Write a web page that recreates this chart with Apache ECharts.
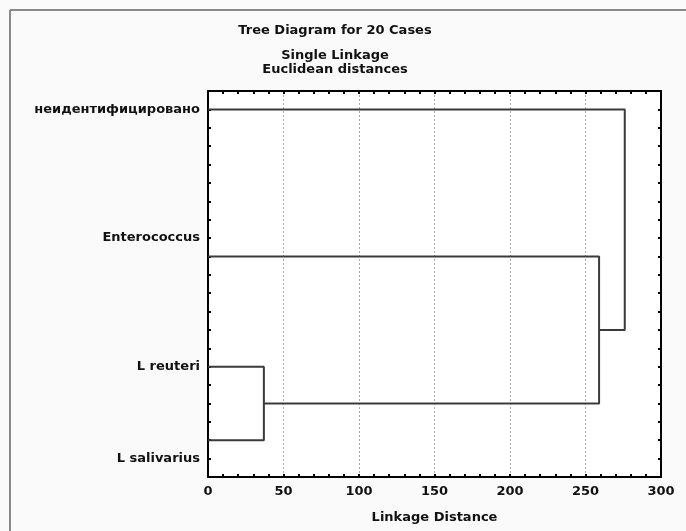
<!DOCTYPE html>
<html>
<head>
<meta charset="utf-8">
<script src="https://cdn.jsdelivr.net/npm/echarts@6/dist/echarts.min.js"></script>
<style>
  html, body { margin: 0; padding: 0; background: #fafafa; }
  #container { width: 686px; height: 531px; }
</style>
</head>
<body>
<div id="container"></div>
<script>
// leaves (top to bottom), row of each leaf's line, row of each name
const caseNames = ['неидентифицировано', 'Enterococcus', 'L reuteri', 'L salivarius'];
const leafRows = [1, 9, 15, 19];
const labelRows = [1, 8, 15, 20];
// joins: [left node, right node, linkage distance]; nodes 4.. are earlier joins
const joins = [
  [2, 3, 37],
  [1, 4, 259],
  [0, 5, 276],
];
const xTicks = [0, 50, 100, 150, 200, 250, 300];

const font = 'DejaVu Sans';
const dom = document.getElementById('container');
const myChart = echarts.init(dom);

// build the dendrogram branches from the joins
const nodeRow = leafRows.slice();
const nodeDist = leafRows.map(() => 0);
const branches = [];
joins.forEach(function (j) {
  const a = j[0], b = j[1], d = j[2];
  branches.push([
    [nodeDist[a], nodeRow[a]],
    [d, nodeRow[a]],
    [d, nodeRow[b]],
    [nodeDist[b], nodeRow[b]],
  ]);
  nodeRow.push((nodeRow[a] + nodeRow[b]) / 2);
  nodeDist.push(d);
});

const textStyle = { fontFamily: font, fontSize: 13, fontWeight: 'bold', color: '#111' };
const axisLine = { onZero: false, lineStyle: { color: '#000', width: 2 } };
const tick = { inside: true, length: 3, lineStyle: { color: '#000', width: 2 } };
const minor = { show: true, splitNumber: 5, length: 3, lineStyle: { color: '#000', width: 2 } };

option = {
  backgroundColor: '#fafafa',
  animation: false,
  title: [
    {
      text: 'Tree Diagram for 20 Cases',
      left: 335, top: 24, padding: 0, textAlign: 'center',
      textStyle: textStyle,
    },
    {
      text: 'Single Linkage\nEuclidean distances',
      left: 335, top: 49, padding: 0, textAlign: 'center',
      textStyle: Object.assign({}, textStyle, { lineHeight: 14 }),
    },
  ],
  graphic: [
    { type: 'line', shape: { x1: 10, y1: 10, x2: 686, y2: 10 }, style: { stroke: '#8a8a8a', lineWidth: 2 } },
    { type: 'line', shape: { x1: 10, y1: 10, x2: 10, y2: 531 }, style: { stroke: '#8a8a8a', lineWidth: 2 } },
  ],
  grid: {
    left: 208, right: 25, top: 91, bottom: 54,
    show: true, backgroundColor: '#fff', borderWidth: 0,
  },
  xAxis: [
    {
      type: 'value', position: 'bottom', min: xTicks[0], max: xTicks[xTicks.length - 1], interval: 50,
      name: 'Linkage Distance', nameLocation: 'middle', nameGap: 34,
      nameTextStyle: textStyle,
      axisLine: axisLine,
      axisTick: tick,
      minorTick: minor,
      axisLabel: Object.assign({ margin: 8 }, textStyle),
      splitLine: { show: true, lineStyle: { color: '#aaa', type: [2, 2], width: 1 } },
    },
    {
      type: 'value', position: 'top', min: 0, max: 300, interval: 50,
      axisLine: axisLine,
      axisTick: tick,
      minorTick: minor,
      axisLabel: { show: false },
      splitLine: { show: false },
    },
  ],
  yAxis: [
    {
      type: 'value', position: 'left', inverse: true, min: 0, max: 21, interval: 1,
      axisLine: axisLine,
      axisTick: tick,
      axisLabel: Object.assign({
        margin: 8,
        formatter: function (v) {
          const i = labelRows.indexOf(v);
          return i >= 0 ? caseNames[i] : '';
        },
      }, textStyle),
      splitLine: { show: false },
    },
    {
      type: 'value', position: 'right', inverse: true, min: 0, max: 21, interval: 1,
      axisLine: axisLine,
      axisTick: tick,
      axisLabel: { show: false },
      splitLine: { show: false },
    },
  ],
  series: branches.map(function (b) {
    return {
      type: 'line',
      data: b,
      symbol: 'none',
      lineStyle: { color: '#3a3a3a', width: 2 },
      z: 5,
    };
  }),
};

if (option && typeof option === 'object') {
  myChart.setOption(option, true);
}
</script>
</body>
</html>
